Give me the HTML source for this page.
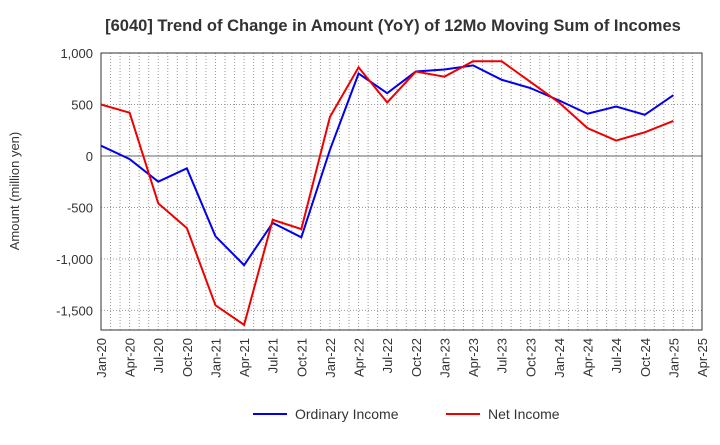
<!DOCTYPE html>
<html><head><meta charset="utf-8"><style>body{margin:0;background:#fff}svg{font-family:"Liberation Sans",sans-serif}</style></head>
<body>
<svg id="c" width="720" height="440" xmlns="http://www.w3.org/2000/svg"></svg>
<script>
const categories=["Jan-20","Apr-20","Jul-20","Oct-20","Jan-21","Apr-21","Jul-21","Oct-21","Jan-22","Apr-22","Jul-22","Oct-22","Jan-23","Apr-23","Jul-23","Oct-23","Jan-24","Apr-24","Jul-24","Oct-24","Jan-25","Apr-25"];
const ordinaryIncome=[100,-30,-250,-120,-780,-1060,-650,-790,60,800,610,820,840,880,740,660,540,410,480,400,590];
const netIncome=[500,420,-460,-700,-1450,-1640,-620,-710,380,860,520,820,770,920,920,720,520,270,150,230,340];
const yTicks=[1000,500,0,-500,-1000,-1500];
const yTickLabels=["1,000","500","0","-500","-1,000","-1,500"];
const svg=document.getElementById('c');const NS="http://www.w3.org/2000/svg";
const L=101,R=702,T=53,B=330,yMax=1000,yMin=-1690;
const x=i=>L+(R-L)*i/(categories.length-1);
const y=v=>T+(yMax-v)/(yMax-yMin)*(B-T);
function el(t,a,p){const e=document.createElementNS(NS,t);for(const k in a)e.setAttribute(k,a[k]);(p||svg).appendChild(e);return e;}
const grid=el('g',{});
for(let m=1;m<(categories.length-1)*3;m++){const xx=L+(R-L)*m/((categories.length-1)*3);el('line',{x1:xx,x2:xx,y1:T,y2:B,stroke:'#999','stroke-dasharray':'1,2','stroke-width':1},grid);}
yTicks.forEach((v,i)=>{el('line',{x1:L,x2:R,y1:y(v),y2:y(v),stroke:v===0?'#666':'#999','stroke-dasharray':v===0?'none':'1,2','stroke-width':1},grid);
const t=el('text',{x:L-8,y:y(v)+5,'text-anchor':'end','font-size':13,fill:'#333'});t.textContent=yTickLabels[i];});
const f=el('rect',{x:L,y:T,width:R-L,height:B-T,fill:'none',stroke:'#333'});
categories.forEach((c,i)=>{const t=el('text',{transform:`translate(${x(i)+5},${B+8}) rotate(-90)`,'text-anchor':'end','font-size':13,fill:'#333'});t.textContent=c;});
function line(d,col,name){const p=el('polyline',{points:d.map((v,i)=>x(i)+','+y(v)).join(' '),fill:'none',stroke:col,'stroke-width':2});}
line(ordinaryIncome,'#0000ee','ordinary-income-line');line(netIncome,'#ee0000','net-income-line');
const ti=el('text',{x:393,y:31,'text-anchor':'middle','font-size':16.5,'font-weight':'bold',fill:'#333'});ti.textContent="[6040]  Trend of Change in Amount (YoY) of 12Mo Moving Sum of Incomes";
const yt=el('text',{transform:'translate(19,191) rotate(-90)','text-anchor':'middle','font-size':13,fill:'#333'});yt.textContent="Amount (million yen)";
[[253,'#0000ee','Ordinary Income'],[446,'#ee0000','Net Income']].forEach(([lx,c,n])=>{const g=el('g',{});el('line',{x1:lx,x2:lx+34,y1:414,y2:414,stroke:c,'stroke-width':2},g);const t=el('text',{x:lx+42,y:419,'font-size':14,fill:'#333'},g);t.textContent=n;});
</script>
</body></html>
